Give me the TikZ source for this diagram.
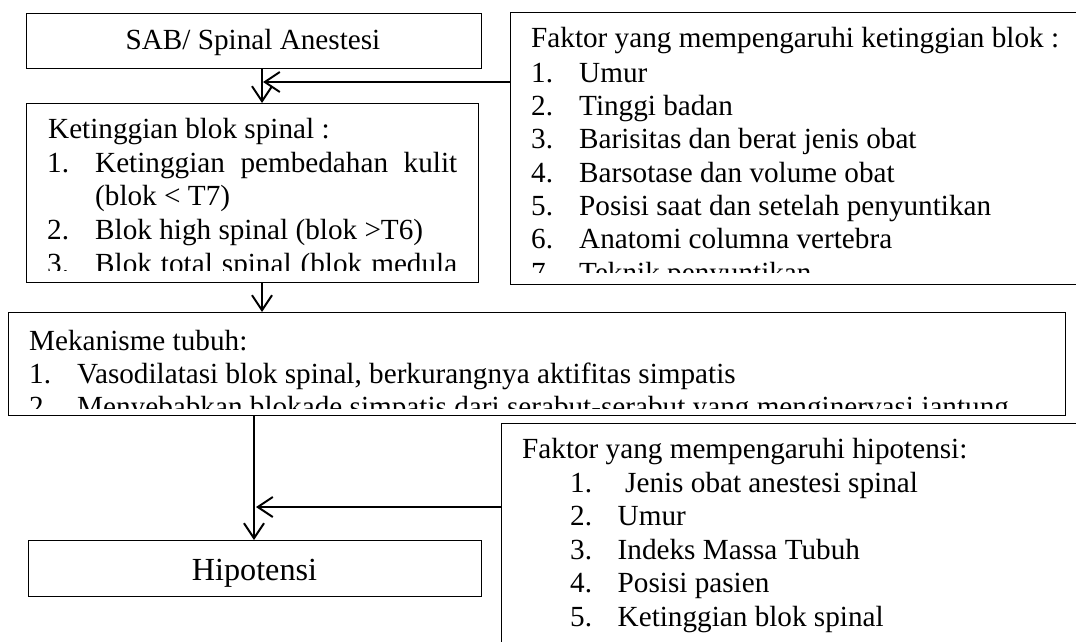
\documentclass[tikz,border=0pt]{standalone}
\usepackage{fontspec}
\setmainfont{Liberation Serif}
\usetikzlibrary{arrows.meta}
\begin{document}
\begin{tikzpicture}[x=1pt,y=-1pt,
  box/.style={draw, line width=1.2pt, inner sep=0pt, anchor=north west},
  arr/.style={line width=2pt, -{Straight Barb[length=15pt,width=20pt,line width=2pt]}},
  harr/.style={arr, line width=2.6pt},
  txt/.style={anchor=base west, inner sep=0pt, font=\fontsize{29.2}{35}\selectfont},
  ctxt/.style={txt, anchor=base},
  big/.style={anchor=base, inner sep=0pt, font=\fontsize{32.2}{39}\selectfont}]
\useasboundingbox (0,0) rectangle (1076,642);

% boxes
\node[box, minimum width=455pt, minimum height=55pt]  (sab) at (26,13) {};
\node[box, minimum width=452pt, minimum height=179pt] (ket) at (26,103) {};
\node[box, minimum width=568pt, minimum height=272pt] (fkt) at (510,12) {};
\node[box, minimum width=1057pt, minimum height=103pt] (mek) at (8,312) {};
\node[box, minimum width=453pt, minimum height=56pt]  (hip) at (28,540) {};
\node[box, minimum width=577pt, minimum height=230pt] (fhp) at (501,423) {};

% texts
\node[ctxt] (sabt) at (253,49) {SAB/ Spinal Anestesi};
\node[big] (hipt) at (254.5,580) {Hipotensi};

\begin{scope}
\clip (ket.north west) rectangle (478,270);
\node[txt] (k0) at (48,138) {Ketinggian blok spinal :};
\node[txt] (k1n) at (47,172) {1.};
\node[txt] (k1) at (95,172) {\makebox[362pt][s]{Ketinggian pembedahan kulit}};
\node[txt] (k1b) at (95,205) {(blok < T7)};
\node[txt] (k2n) at (47,239) {2.};
\node[txt] (k2) at (95,239) {Blok high spinal (blok >T6)};
\node[txt] (k3n) at (47,273) {3.};
\node[txt] (k3) at (95,273) {\makebox[362pt][s]{Blok total spinal (blok medula}};
\end{scope}

\begin{scope}
\clip (fkt.north west) rectangle (1076,272);
\node[txt] (f0) at (531,48) {Faktor yang mempengaruhi ketinggian blok :};
\node[txt] (f1n) at (531,82) {1.};  \node[txt] (f1) at (579,82) {Umur};
\node[txt] (f2n) at (531,115) {2.}; \node[txt] (f2) at (579,115) {Tinggi badan};
\node[txt] (f3n) at (531,148) {3.}; \node[txt] (f3) at (579,148) {Barisitas dan berat jenis obat};
\node[txt] (f4n) at (531,182) {4.}; \node[txt] (f4) at (579,182) {Barsotase dan volume obat};
\node[txt] (f5n) at (531,215) {5.}; \node[txt] (f5) at (579,215) {Posisi saat dan setelah penyuntikan};
\node[txt] (f6n) at (531,248) {6.}; \node[txt] (f6) at (579,248) {Anatomi columna vertebra};
\node[txt] (f7n) at (531,282) {7.}; \node[txt] (f7) at (579,282) {Teknik penyuntikan};
\end{scope}

\begin{scope}
\clip (mek.north west) rectangle (1065,408);
\node[txt] (m0) at (29,350) {Mekanisme tubuh:};
\node[txt] (m1n) at (29,383) {1.}; \node[txt] (m1) at (77,383) {Vasodilatasi blok spinal, berkurangnya aktifitas simpatis};
\node[txt] (m2n) at (29,416) {2.}; \node[txt] (m2) at (77,416) {Menyebabkan blokade simpatis dari serabut-serabut yang menginervasi jantung};
\end{scope}

\node[txt] (h0) at (522,458) {Faktor yang mempengaruhi hipotensi:};
\node[txt] (h1n) at (570,492) {1.};   \node[txt] (h1) at (625,492) {Jenis obat anestesi spinal};
\node[txt] (h2n) at (570,525.5) {2.}; \node[txt] (h2) at (617.5,525.5) {Umur};
\node[txt] (h3n) at (570,559) {3.};   \node[txt] (h3) at (617.5,559) {Indeks Massa Tubuh};
\node[txt] (h4n) at (570,592.5) {4.}; \node[txt] (h4) at (617.5,592.5) {Posisi pasien};
\node[txt] (h5n) at (570,626) {5.};   \node[txt] (h5) at (617.5,626) {Ketinggian blok spinal};

% connectors
\coordinate (c1) at (262,0);
\coordinate (c2) at (254,0);
\coordinate (j1) at (263,82);
\coordinate (j2) at (256,507);
\draw[arr] (sab.south -| c1) -- (ket.north -| c1);
\draw[harr] (fkt.west |- j1) -- (j1);
\draw[arr] (ket.south -| c1) -- (mek.north -| c1);
\draw[arr] (mek.south -| c2) -- (hip.north -| c2);
\draw[harr] (fhp.west |- j2) -- (j2);
\end{tikzpicture}
\end{document}
